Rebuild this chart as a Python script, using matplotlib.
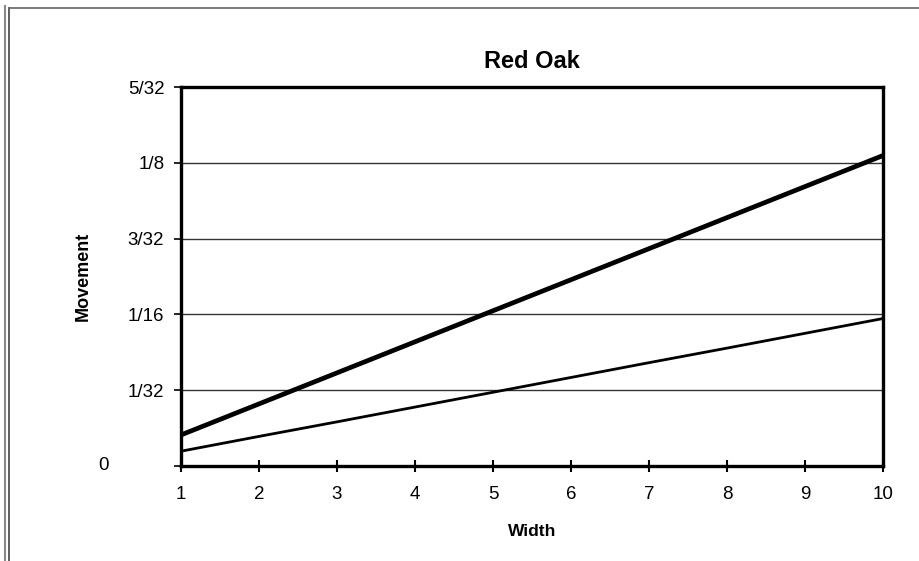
import matplotlib
matplotlib.use("Agg")
import matplotlib.pyplot as plt
from matplotlib.lines import Line2D

plt.rcParams['font.family'] = ['Liberation Sans', 'DejaVu Sans']

# data (movement in inches)
width = [1, 2, 3, 4, 5, 6, 7, 8, 9, 10]
thick_line = [0.0128, 0.0256, 0.0384, 0.0512, 0.0640, 0.0768, 0.0896, 0.1024, 0.1152, 0.1280]
thin_line = [0.0061, 0.0122, 0.0182, 0.0243, 0.0304, 0.0365, 0.0426, 0.0486, 0.0547, 0.0608]
ytick_vals = [0, 1/32, 1/16, 3/32, 1/8, 5/32]
ytick_labels = ['', '1/32', '1/16', '3/32', '1/8', '5/32']

fig = plt.figure(figsize=(9.19, 5.61), dpi=100)
ax = fig.add_axes([181/919, 1 - 466/561, (883 - 181)/919, (466 - 87)/561])

ax.plot(width, thick_line, color='black', lw=3.4, solid_capstyle='butt')
ax.plot(width, thin_line, color='black', lw=2.0, solid_capstyle='butt')

ax.set_xlim(1, 10)
ax.set_ylim(0, 5/32)
ax.set_xticks(width)
ax.set_yticks(ytick_vals)
ax.set_yticklabels(ytick_labels)
ax.grid(axis='y', color='#333333', lw=1.0)
ax.set_axisbelow(True)
for s in ax.spines.values():
    s.set_linewidth(2.4)
ax.tick_params(axis='y', direction='out', length=5, width=1.2, labelsize=13.5, pad=7)
ax.tick_params(axis='x', direction='inout', length=9, width=1.5, labelsize=13.5, pad=10)

# the zero label sits well left of the others
ax.text(-0.11, 0, '0', transform=ax.get_yaxis_transform(), ha='center', va='center', fontsize=13.5)

ax.set_title('Red Oak', fontsize=17, fontweight='bold', pad=14)
ax.set_xlabel('Width', fontsize=12.5, fontweight='bold', labelpad=15)
ax.set_ylabel('Movement', fontsize=13, fontweight='bold', labelpad=26)

# scanned page border
fig.add_artist(Line2D([5/919, 5/919], [0, 1 - 6/561], color='#888888', lw=1.5, transform=fig.transFigure))
fig.add_artist(Line2D([9/919, 9/919], [0, 1 - 8/561], color='#444444', lw=1.2, transform=fig.transFigure))
fig.add_artist(Line2D([9/919, 1], [1 - 8/561, 1 - 8/561], color='#666666', lw=1.2, transform=fig.transFigure))

fig.savefig('out.png', dpi=100)
